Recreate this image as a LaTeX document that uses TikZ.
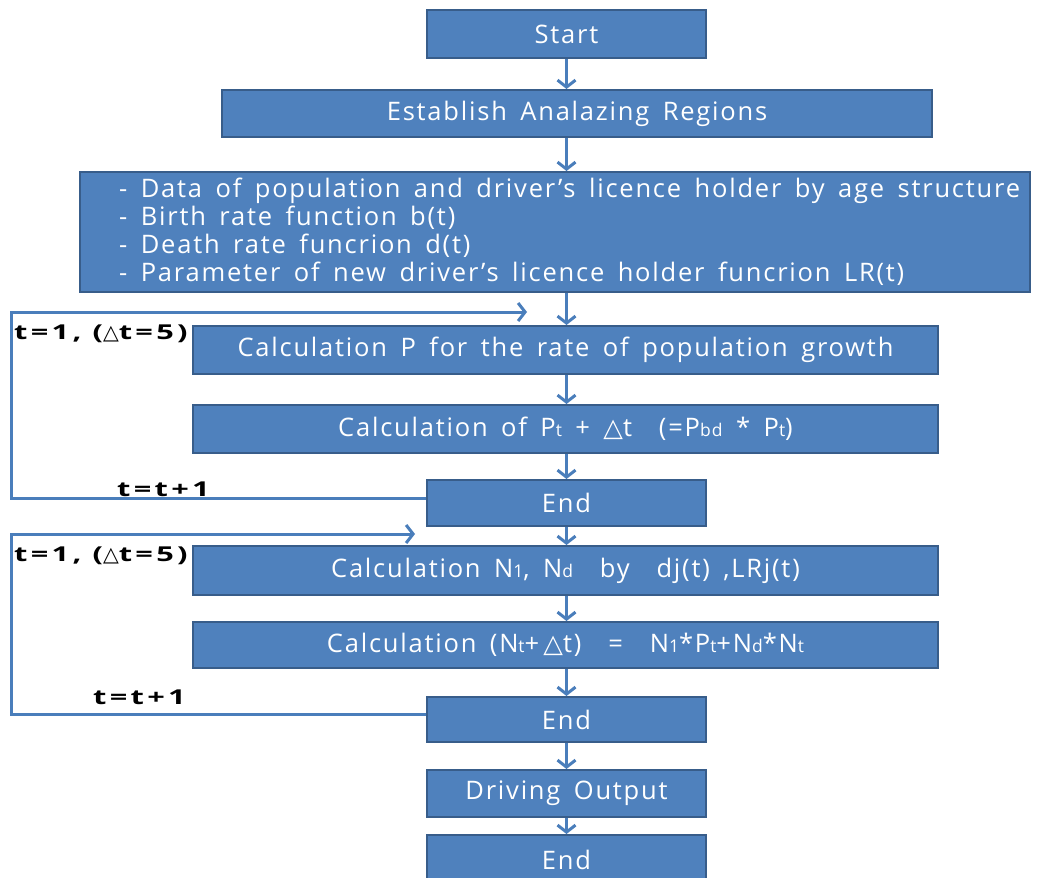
\documentclass[tikz,border=0pt]{standalone}
\usepackage{fontspec}
\setmainfont{Open Sans}
\newfontfamily\boxf{Open Sans}[LetterSpace=7, WordSpace=1.6]
\newfontfamily\lblf{Open Sans}[FakeStretch=1.5, LetterSpace=16]
\newfontfamily\symf{DejaVu Sans}
\usetikzlibrary{arrows.meta}
\definecolor{boxfill}{HTML}{4F81BD}
\definecolor{boxline}{HTML}{385D8A}
\definecolor{arr}{HTML}{4A7EBB}
\newcommand\sbs[1]{{\fontsize{17.5}{17.5}\selectfont #1}}
\newcommand\tri{{\symf\char"25B3}}
\begin{document}
\begin{tikzpicture}[x=1pt,y=-1pt,
  box/.style={draw=boxline, line width=2pt, fill=boxfill, text=white,
    font=\boxf\fontsize{25.5}{28}\selectfont, inner sep=0pt},
  flow/.style={draw=arr, line width=3pt, -{Straight Barb[length=7pt,width=18pt]}},
  lbl/.style={font=\lblf\fontsize{20.5}{22}\selectfont\bfseries, anchor=west, inner sep=0pt}]
\clip (0,0) rectangle (1042,878);
\fill[white] (0,0) rectangle (1042,878);
% boxes
\node[box, minimum width=279, minimum height=48] (start) at (566.5,34) {Start};
\node[box, minimum width=710, minimum height=47] (estab) at (577,113.5) {Establish Analazing Regions};
\node[box, minimum width=950, minimum height=120] (data) at (555,232) {};
\node[anchor=west, inner sep=0pt, text=white, align=left,
  font=\boxf\fontsize{25.5}{28}\selectfont] (datatxt) at (119,232)
  {- Data of population and driver’s licence holder by age structure\\
   - Birth rate function b(t)\\
   - Death rate funcrion d(t)\\
   - Parameter of new driver’s licence holder funcrion LR(t)};
\node[box, minimum width=745, minimum height=48] (calcp) at (565.5,350) {Calculation P for the rate of population growth};
\node[box, minimum width=745, minimum height=48] (calcpt) at (565.5,429) {Calculation of P\sbs{t} + \tri t\ \ (=P\sbs{bd} * P\sbs{t})};
\node[box, minimum width=279, minimum height=46] (end1) at (566.5,503) {End};
\node[box, minimum width=745, minimum height=49] (calcn) at (565.5,570.5) {Calculation N\sbs{1}, N\sbs{d}\ \ by\ \ dj(t) ,LRj(t)};
\node[box, minimum width=745, minimum height=46] (calcnt) at (565.5,645) {Calculation (N\sbs{t}+\,\tri t)\ \ =\ \ N\sbs{1}*P\sbs{t}+N\sbs{d}*N\sbs{t}};
\node[box, minimum width=279, minimum height=45] (end2) at (566.5,719.5) {End};
\node[box, minimum width=279, minimum height=47] (drive) at (566.5,793.5) {Driving Output};
\node[box, minimum width=279, minimum height=50] (end3) at (566.5,860) {End};
% main flow
\draw[flow] (start) -- (start.south |- estab.north);
\draw[flow] (estab.south -| start) -- (data.north -| start);
\draw[flow] (data.south -| start) -- (calcp.north -| start);
\draw[flow] (calcp.south -| start) -- (calcpt.north -| start);
\draw[flow] (calcpt.south -| start) -- (end1);
\draw[flow] (end1) -- (calcn.north -| start);
\draw[flow] (calcn.south -| start) -- (calcnt.north -| start);
\draw[flow] (calcnt.south -| start) -- (end2);
\draw[flow] (end2) -- (drive);
\draw[flow] (drive) -- (end3);
% loops
\coordinate (in1) at (527,312);
\coordinate (c1) at (11,312);
\draw[flow] ([yshift=5pt]end1.west) -| (c1) -- (in1);
\coordinate (in2) at (415,534);
\coordinate (c2) at (11,534);
\draw[flow] ([yshift=5pt]end2.west) -| (c2) -- (in2);
% labels
\node[lbl] (l1) at (14,334) {t=1, (\tri t=5)};
\node[lbl] (l2) at (117,489) {t=t+1};
\node[lbl] (l3) at (14,556) {t=1, (\tri t=5)};
\node[lbl] (l4) at (93,697) {t=t+1};
\end{tikzpicture}
\end{document}
